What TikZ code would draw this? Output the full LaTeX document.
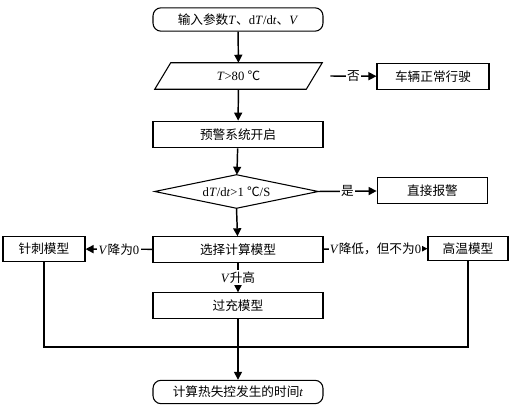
\documentclass[tikz,border=0pt]{standalone}
\usepackage{fontspec}
\setmainfont{Liberation Serif}
\newfontfamily\cjk{Noto Sans CJK SC}
\usetikzlibrary{arrows.meta,calc}
\newcommand\zh[1]{{\cjk #1}}
\begin{document}
\begin{tikzpicture}[x=0.75pt,y=-0.75pt,
  every node/.style={font=\fontsize{9.5pt}{11pt}\selectfont, inner sep=0pt},
  box/.style={draw, line width=0.8pt, minimum width=127.5pt, minimum height=19pt},
  sbox/.style={draw, line width=0.8pt, minimum height=19pt},
  rbox/.style={box, rounded corners=6pt, minimum height=17.5pt},
  parshape/.style={minimum width=125.25pt, minimum height=19.5pt},
  arr/.style={-{Triangle[length=6pt,width=6pt]}, line width=1.1pt},
  ln/.style={line width=1.1pt},
  lab/.style={fill=white, inner sep=1pt}]
\useasboundingbox (0,0) rectangle (519,414);
\node[rbox] (start) at (238,19.5) {\zh{输入参数}\textit{T}\zh{、}d\textit{T}/d\textit{t}\zh{、}\textit{V}};
\node[parshape] (par) at (238.5,76) {\textit{T}>80 \zh{℃}};
\draw[line width=0.8pt] ([xshift=12pt]par.north west) -- (par.north east) -- ([xshift=-12pt]par.south east) -- (par.south west) -- cycle;
\node[sbox, minimum width=84pt, minimum height=20pt] (normal) at (433,76.5) {\zh{车辆正常行驶}};
\node[box, minimum height=20pt] (warn) at (238,134.5) {\zh{预警系统开启}};
\node[minimum width=122.25pt, minimum height=24.75pt] (dia) at (236.5,191.5) {d\textit{T}/d\textit{t}>1 \zh{℃}/S};
\draw[line width=0.8pt] (dia.west) -- (dia.north) -- (dia.east) -- (dia.south) -- cycle;
\node[sbox, minimum width=83pt] (alarm) at (432.5,190.5) {\zh{直接报警}};
\node[box] (sel) at (238,249.5) {\zh{选择计算模型}};
\node[sbox, minimum width=61.5pt] (needle) at (44,249) {\zh{针刺模型}};
\node[sbox, minimum width=60pt, minimum height=17.5pt] (heat) at (468,248.5) {\zh{高温模型}};
\node[box] (over) at (238,305.5) {\zh{过充模型}};
\node[rbox] (end) at (238,392) {\zh{计算热失控发生的时间}\textit{t}};
\coordinate (bl) at (needle.south |- 0,347);
\coordinate (br) at (heat.south |- 0,347);
\draw[arr] (start) -- (par);
\draw[arr] ([xshift=6pt]par.east) -- node[lab]{\zh{否}} (normal);
\draw[arr] (par) -- (warn);
\draw[arr] (warn) -- (dia);
\draw[arr] (dia.east) -- node[lab]{\zh{是}} (alarm);
\draw[arr] (dia.south) -- (sel);
\draw[arr] (sel) -- node[lab]{\textit{V}\zh{降为}0} (needle);
\draw[arr] (sel) -- node[lab]{\textit{V}\zh{降低，但不为}0} (heat);
\draw[arr] (sel) -- node[lab]{\textit{V}\zh{升高}} (over);
\draw[arr] (over) -- (end);
\draw[ln] (needle.south) -- (bl) -- (br) -- (heat.south);
\end{tikzpicture}
\end{document}
